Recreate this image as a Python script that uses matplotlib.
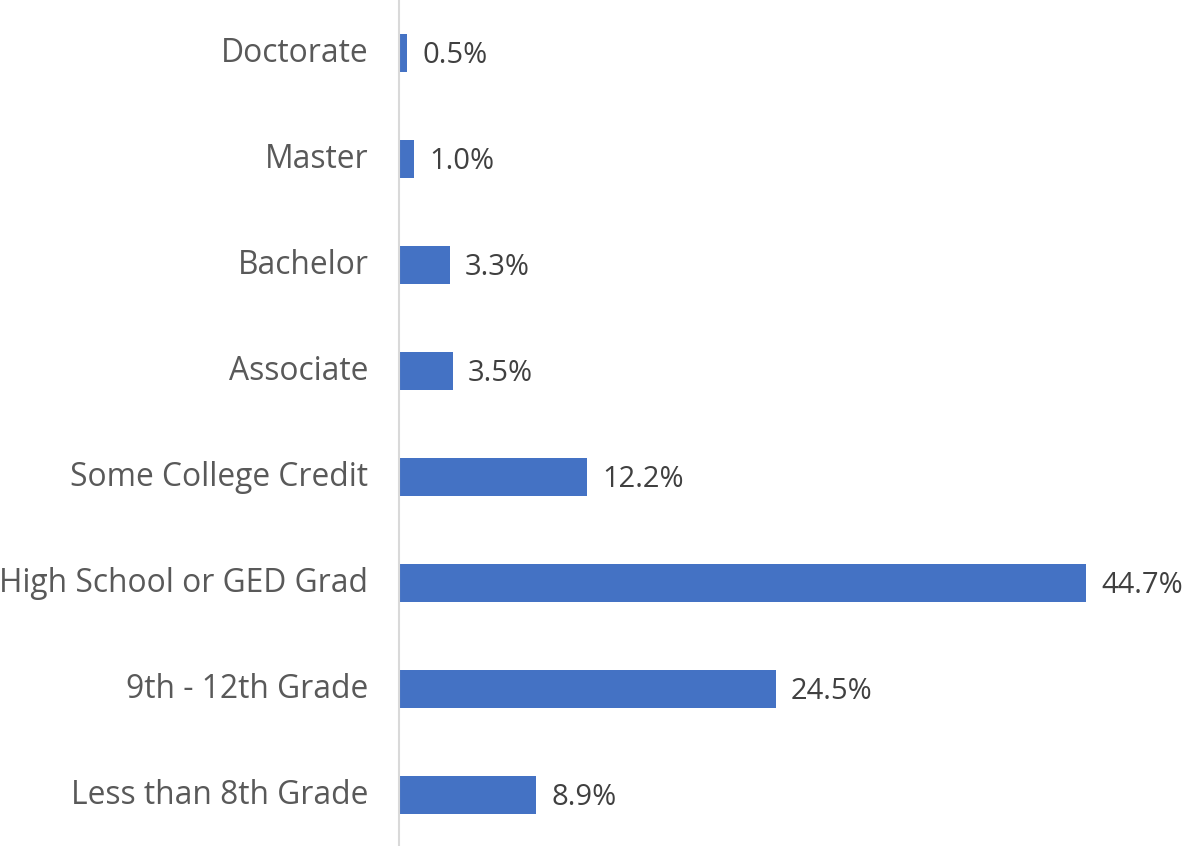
import matplotlib.pyplot as plt
import numpy as np

categories = ["Less than 8th Grade", "9th - 12th Grade", "High School or GED Grad",
              "Some College Credit", "Associate", "Bachelor", "Master", "Doctorate"]
values = [8.9, 24.5, 44.7, 12.2, 3.5, 3.3, 1.0, 0.5]

fig = plt.figure(figsize=(11.84, 8.46), dpi=100)
ax = fig.add_axes([399 / 1184, 0, 1 - 399 / 1184, 1])

y = np.arange(len(categories))
ax.barh(y, values, height=0.35, color="#4472C4")

for yi, v in zip(y, values):
    ax.text(v + 1.0, yi - 0.02, f"{v:.1f}%", va="center", ha="left",
            fontsize=21, color="#404040", family=["Open Sans", "DejaVu Sans"])

ax.set_xlim(0, (1184 - 399) / 15.37)
ax.set_ylim(-0.481, 7.5)
ax.set_yticks(y)
ax.set_yticklabels(categories, fontsize=22.9, color="#595959",
                   family=["Open Sans", "DejaVu Sans"], va="center")
ax.tick_params(axis="y", length=0, pad=22)
ax.set_xticks([])
for s in ["top", "right", "bottom"]:
    ax.spines[s].set_visible(False)
ax.spines["left"].set_color("#D9D9D9")
ax.spines["left"].set_linewidth(1.5)

fig.savefig("out.png", dpi=100)
